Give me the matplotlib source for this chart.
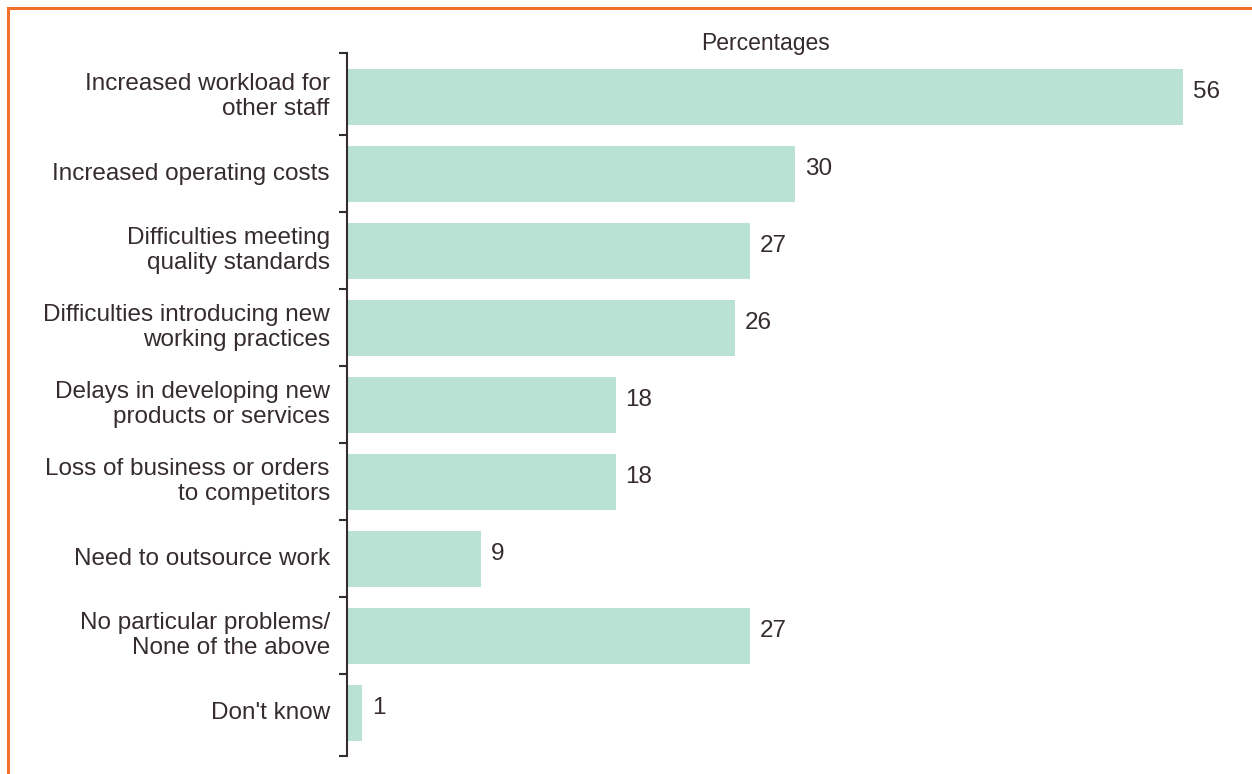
import numpy as np
import matplotlib.pyplot as plt
from matplotlib.lines import Line2D

plt.rcParams['font.family'] = ['Liberation Sans', 'DejaVu Sans']

categories = [
    "Increased workload for\nother staff",
    "Increased operating costs",
    "Difficulties meeting\nquality standards",
    "Difficulties introducing new\nworking practices",
    "Delays in developing new\nproducts or services",
    "Loss of business or orders\nto competitors",
    "Need to outsource work",
    "No particular problems/\nNone of the above",
    "Don't know",
]
values = [56, 30, 27, 26, 18, 18, 9, 27, 1]

bar_color = '#bae2d4'
text_color = '#352c30'
border_color = '#f2702a'

W, H = 1252, 774
fig = plt.figure(figsize=(W / 100, H / 100), dpi=100)

# axes placed in pixel terms
left, right, top, bottom = 347, 1243, 53, 756
ax = fig.add_axes([left / W, 1 - bottom / H, (right - left) / W, (bottom - top) / H])

y = np.arange(len(categories))
ax.barh(y, values, height=0.73, color=bar_color, zorder=2)
ax.set_ylim(8.56, -0.57)
ax.set_xlim(0, 60)

for yi, v in zip(y, values):
    ax.text(v + 0.65, yi - 0.06, str(v), va='center', ha='left', fontsize=17.5, color=text_color)

for yi, lab in zip(y, categories):
    ax.text(-1.15, yi, lab, va='center', ha='right', fontsize=17.5, color=text_color,
            multialignment='right', linespacing=1.18)

ax.annotate("Percentages", xy=(28.0, 1.0), xycoords=ax.get_xaxis_transform(),
            xytext=(0, 7), textcoords='offset points', ha='center', va='center',
            fontsize=16.5, color=text_color)

# spine and boundary ticks
for s in ['top', 'right', 'bottom']:
    ax.spines[s].set_visible(False)
ax.spines['left'].set_color(text_color)
ax.spines['left'].set_linewidth(1.5)
ax.set_xticks([])
ylo, yhi = ax.get_ylim()
ax.set_yticks([yhi] + list(np.arange(0.5, len(categories) - 1, 1.0)) + [ylo])
ax.set_yticklabels([])
ax.tick_params(axis='y', length=6, width=1.5, color=text_color, direction='out')

# orange frame along the top and left edges
fig.add_artist(Line2D([8 / W, 1], [1 - 8 / H, 1 - 8 / H], color=border_color, lw=2.2))
fig.add_artist(Line2D([8 / W, 8 / W], [0, 1 - 8 / H], color=border_color, lw=2.2))

fig.savefig('out.png', dpi=100, facecolor='white')
